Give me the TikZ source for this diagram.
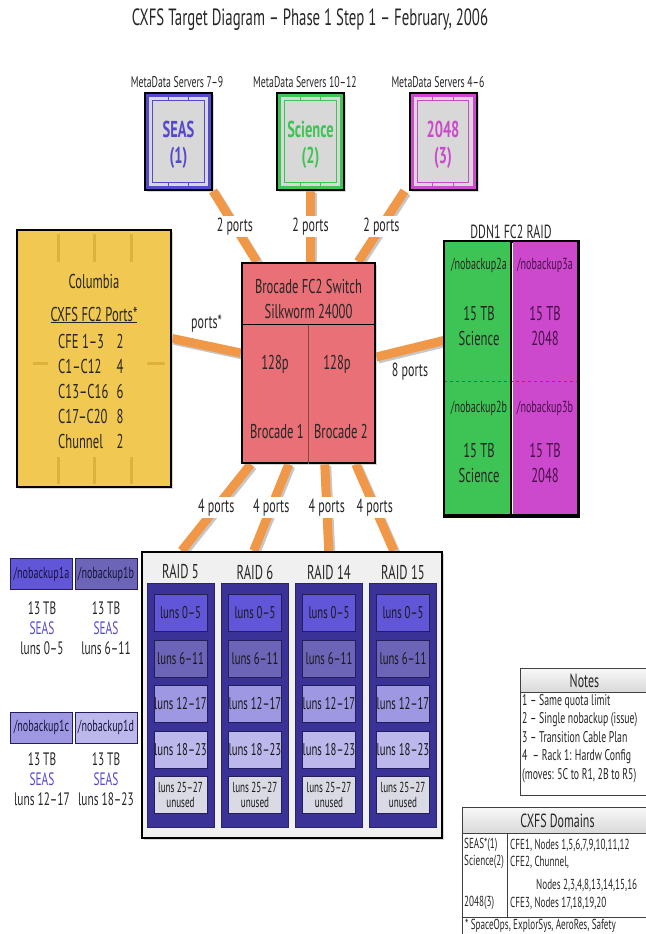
\documentclass[tikz,border=0pt]{standalone}
\usepackage{fontspec}
\setmainfont{PT Sans}[FakeStretch=0.63]
\usepackage{xcolor}
\usepackage{tikz}
\usetikzlibrary{positioning, calc, backgrounds, shadows}

\definecolor{laranja}{RGB}{241,152,72}
\definecolor{vermelho}{RGB}{232,112,118}
\definecolor{ouro}{RGB}{240,200,82}
\definecolor{ourofundo}{RGB}{222,176,60}
\definecolor{azulseas}{RGB}{84,72,204}
\definecolor{verdesci}{RGB}{62,196,84}
\definecolor{magenta2048}{RGB}{204,72,204}
\definecolor{cinzasrv}{RGB}{216,216,216}
\definecolor{azulraid}{RGB}{58,50,150}
\definecolor{lunA}{RGB}{98,86,216}
\definecolor{lunB}{RGB}{108,100,182}
\definecolor{lunC}{RGB}{158,152,226}
\definecolor{lunD}{RGB}{188,184,236}
\definecolor{lunE}{RGB}{218,218,228}
\definecolor{roxoescuro}{RGB}{72,16,72}

\newcommand{\tam}[2]{\fontsize{#1}{#2}\selectfont}

\begin{document}
\begin{tikzpicture}[
  x=1pt, y=-1pt,
  font=\tam{18}{20},
  text=black!85,
  sombra/.style={drop shadow={shadow xshift=2pt, shadow yshift=-2pt, fill=black!30}},
  servidor/.style={draw=black, line width=2pt, minimum width=67pt, minimum height=97pt,
                   inner sep=0pt, sombra},
  miolo/.style={fill=cinzasrv, minimum width=59pt, minimum height=89pt, inner sep=0pt},
  chave/.style={draw=black, line width=2.5pt, fill=vermelho, minimum width=133pt,
                minimum height=200pt, sombra},
  columbia/.style={draw=black, line width=2.5pt, fill=ouro, minimum width=154pt,
                   minimum height=257pt, sombra},
  caixaddn/.style={draw=black, line width=2.5pt, fill=white, minimum width=132pt,
                   minimum height=273pt, sombra},
  meiaddn/.style={minimum height=273pt, inner sep=0pt},
  caixaraid/.style={draw=black, line width=2.5pt, fill=gray!12, minimum width=300pt,
                    minimum height=286pt, sombra},
  coluna/.style={fill=azulraid, draw=azulraid!70!black, line width=0.8pt,
                 minimum width=67pt, minimum height=244pt},
  lun/.style={draw=azulraid!60!black, line width=1pt, minimum width=53pt,
              minimum height=37pt, inner sep=0pt, font=\tam{17}{17}, text=black!90},
  nb/.style={draw=azulraid!60!black, line width=1pt, minimum width=62pt,
             minimum height=31pt, inner sep=0pt, font=\tam{16}{16}, text=azulraid!40!black},
  tabela/.style={draw=black!75, line width=1pt, fill=white, inner sep=0pt},
  cabec/.style={draw=black!75, line width=1pt, top color=gray!6, bottom color=gray!30,
                inner sep=0pt, font=\tam{19}{20}},
  cabo/.style={draw=laranja, line width=9pt,
               preaction={draw=black!22, line width=9pt, transform canvas={xshift=2pt, yshift=-2pt}}},
  porta/.style={fill=white, inner sep=1.5pt, font=\tam{19}{20}},
  rotulo/.style={font=\tam{15.5}{17}},
  linha/.style={anchor=west, inner sep=1pt, font=\tam{14.5}{16}}
]
\useasboundingbox (0,0) rectangle (645,934);

% ---------- Titulo ----------
\node[font=\tam{23.5}{26}] (titulo) at (310,20) {CXFS Target Diagram – Phase 1 Step 1 – February, 2006};

% ---------- Servidores de metadados ----------
\node[rotulo] (md1) at (177,82) {MetaData Servers 7–9};
\node[rotulo] (md2) at (305,82) {MetaData Servers 10–12};
\node[rotulo] (md3) at (438,82) {MetaData Servers 4–6};

\foreach \nome/\cx/\cor/\txt/\num in {seas/178.5/azulseas/SEAS/1, sci/310.5/verdesci/Science/2, tfe/443/magenta2048/2048/3}{
  \node[servidor, fill=\cor] (\nome) at (\cx,141.5) {};
  \node[miolo] (\nome-m) at (\nome) {};
  \draw[\cor, line width=1pt] ([shift={(4pt,-4pt)}]\nome-m.north west) rectangle ([shift={(-4pt,4pt)}]\nome-m.south east);
  \foreach \f in {0.33,0.67}{
    \draw[\cor, line width=1pt] ($(\nome-m.north west)!\f!(\nome-m.north east)$) -- ++(0,4);
    \draw[\cor, line width=1pt] ($(\nome-m.south west)!\f!(\nome-m.south east)$) -- ++(0,-4);
  }
  \node[font=\bfseries\tam{23}{26}, text=\cor, align=center] (\nome-t) at (\cx,145) {\txt\\(\num)};
}

% ---------- Switch Brocade ----------
\node[chave] (sw) at (308.5,363) {};
\draw[line width=1.2pt] ([yshift=-63pt]sw.north west) -- ([yshift=-63pt]sw.north east);
\draw[black!40!vermelho, line width=0.6pt] ([yshift=-63pt]sw.north) -- (sw.south);
\node[align=center, font=\tam{20}{25}] (swtit) at (308.5,298.5) {Brocade FC2 Switch\\Silkworm 24000};
\node[font=\tam{20}{20}] (sw-p1) at (275,364) {128p};
\node[font=\tam{20}{20}] (sw-p2) at (337,364) {128p};
\node[font=\tam{20}{20}] (sw-b1) at (277,431) {Brocade 1};
\node[font=\tam{20}{20}] (sw-b2) at (341,431) {Brocade 2};

% ---------- Columbia ----------
\node[columbia] (col) at (94,358.5) {};
\begin{scope}[ourofundo, line width=3pt]
  \foreach \vx in {58,94,131}{
    \draw (\vx,234) -- (\vx,262);
    \draw (\vx,457) -- (\vx,484);
  }
  \draw (33,363) -- (48,363);
  \draw (147,363) -- (165,363);
\end{scope}
\node[font=\tam{20}{20}] (col-tit) at (94,281) {Columbia};
\node[font=\tam{20}{20}] (col-sub) at (94,315) {\underline{CXFS FC2 Ports*}};
\node[anchor=west, align=left, inner sep=0pt, font=\tam{20}{25}] (col-nomes) at (58,391)
  {CFE 1–3\\C1–C12\\C13–C16\\C17–C20\\Chunnel};
\node[align=center, inner sep=0pt, font=\tam{20}{25}] (col-nums) at (120,391) {2\\4\\6\\8\\2};

% ---------- DDN1 FC2 RAID ----------
\node[font=\tam{19}{20}] (ddn-tit) at (511,232) {DDN1 FC2 RAID};
\node[caixaddn] (ddn) at (511,378.5) {};
\node[meiaddn, fill=verdesci, minimum width=67pt, anchor=north west] (ddn-l) at (ddn.north west) {};
\node[meiaddn, fill=magenta2048, minimum width=65pt, anchor=north east] (ddn-r) at (ddn.north east) {};
\draw[black!65, dashed, line width=1.3pt] ([yshift=-141pt]ddn.north west) -- ([yshift=-141pt]ddn.north east);
\draw[line width=2pt] (ddn-l.north east) -- (ddn-l.south east);
\draw[line width=2.5pt] (ddn.north west) rectangle (ddn.south east);
\node[font=\tam{16}{16}] (n2a) at (479,265) {/nobackup2a};
\node[align=center, font=\tam{20}{25}] (n2a-t) at (479,325.5) {15 TB\\Science};
\node[font=\tam{16}{16}] (n2b) at (479,408) {/nobackup2b};
\node[align=center, font=\tam{20}{25}] (n2b-t) at (479,462.5) {15 TB\\Science};
\node[font=\tam{16}{16}, text=roxoescuro] (n3a) at (545,265) {/nobackup3a};
\node[align=center, font=\tam{20}{25}, text=roxoescuro] (n3a-t) at (545,325.5) {15 TB\\2048};
\node[font=\tam{16}{16}, text=roxoescuro] (n3b) at (545,408) {/nobackup3b};
\node[align=center, font=\tam{20}{25}, text=roxoescuro] (n3b-t) at (545,462.5) {15 TB\\2048};

% ---------- Volumes /nobackup1 (SEAS) ----------
\node[nb, fill=lunA] (nb1a) at (41.5,574) {/nobackup1a};
\node[nb, fill=lunB] (nb1b) at (106,574) {/nobackup1b};
\node[nb, fill=lunC] (nb1c) at (41.5,727.5) {/nobackup1c};
\node[nb, fill=lunD] (nb1d) at (106,727.5) {/nobackup1d};
\node[align=center, font=\tam{18}{20}] (nb1a-t) at (42,628) {13 TB\\\textcolor{azulseas}{SEAS}\\luns 0–5};
\node[align=center, font=\tam{18}{20}] (nb1b-t) at (106,628) {13 TB\\\textcolor{azulseas}{SEAS}\\luns 6–11};
\node[align=center, font=\tam{18}{20}] (nb1c-t) at (42,779) {13 TB\\\textcolor{azulseas}{SEAS}\\luns 12–17};
\node[align=center, font=\tam{18}{20}] (nb1d-t) at (106,779) {13 TB\\\textcolor{azulseas}{SEAS}\\luns 18–23};

% ---------- RAIDs 5, 6, 14, 15 ----------
\node[caixaraid] (raid) at (292,695) {};
\foreach \i/\cx/\nr in {1/180.5/5, 2/255/6, 3/329/14, 4/403/15}{
  \node[font=\tam{20}{20}] (raid\i-tit) at (\cx,572) {RAID \nr};
  \node[coluna] (raid\i) at (\cx,705) {};
  \foreach \j/\cy/\cor/\txt in {1/613/lunA/luns 0–5, 2/658.5/lunB/luns 6–11, 3/704/lunC/luns 12–17, 4/749.5/lunD/luns 18–23}
    \node[lun, fill=\cor] (raid\i-\j) at (\cx,\cy) {\txt};
  \node[lun, fill=lunE, align=center, font=\tam{14.5}{15.5}] (raid\i-5) at (\cx,795) {luns 25–27\\unused};
}

% ---------- Cabos de fibra (laranja) ----------
\begin{scope}[on background layer]
  \draw[cabo] (seas.south east) -- node[porta] (lp1) {2 ports} ([xshift=16pt]sw.north west);
  \draw[cabo] (sci.south) -- node[porta] (lp2) {2 ports} (sci.south |- sw.north);
  \draw[cabo] ([xshift=-4pt]tfe.south west) -- node[porta] (lp3) {2 ports} ([xshift=-18pt]sw.north east);
  \draw[cabo] ([yshift=20pt]col.east) -- node[above=6pt, font=\tam{19}{20}] (lpc) {ports*} ([yshift=10pt]sw.west);
  \draw[cabo] ([yshift=6pt]sw.east) -- node[below=6pt, font=\tam{19}{20}] (lpd) {8 ports} ([yshift=38pt]ddn.west);
  \draw[cabo] ([xshift=10pt]sw.south west) -- node[porta] (lr1) {4 ports} ([xshift=41pt]raid.north west);
  \draw[cabo] ([xshift=48pt]sw.south west) -- node[porta] (lr2) {4 ports} ([xshift=113pt]raid.north west);
  \draw[cabo] ([xshift=84pt]sw.south west) -- node[porta] (lr3) {4 ports} ([xshift=188pt]raid.north west);
  \draw[cabo] ([xshift=115pt]sw.south west) -- node[porta] (lr4) {4 ports} ([xshift=253pt]raid.north west);
\end{scope}

% ---------- Notas ----------
\node[tabela, anchor=north west, minimum width=128pt, minimum height=127pt] (notas) at (520,668) {};
\node[cabec, anchor=north west, minimum width=128pt, minimum height=24pt] (notas-h) at (notas.north west) {Notes};
\node[anchor=north west, align=left, inner sep=0pt, font=\tam{15.5}{18.5}] (notas-txt) at (522,694)
  {1 – Same quota limit\\2 – Single nobackup (issue)\\3 – Transition Cable Plan\\4 \ – Rack 1: Hardw Config\\(moves: 5C to R1, 2B to R5)};

% ---------- Dominios CXFS ----------
\node[tabela, anchor=north west, minimum width=190pt, minimum height=135pt] (dom) at (462,807) {};
\node[cabec, anchor=north west, minimum width=190pt, minimum height=26pt] (dom-h) at (dom.north west) {CXFS Domains};
\draw[black!75, line width=1pt] (dom-h.south -| 507,0) -- (507,917);
\draw[black!75, line width=1pt] (dom.west |- 0,917) -- (dom.east |- 0,917);
\node[linha] (d1) at (463,845) {SEAS*(1)};
\node[linha] (d2) at (463,862) {Science(2)};
\node[linha] (d3) at (463,903) {2048(3)};
\node[linha] (d4) at (509,845) {CFE1, Nodes 1,5,6,7,9,10,11,12};
\node[linha] (d5) at (509,862) {CFE2, Chunnel,};
\node[linha] (d6) at (535,885) {Nodes 2,3,4,8,13,14,15,16};
\node[linha] (d7) at (509,903) {CFE3, Nodes 17,18,19,20};
\node[linha] (d8) at (464,926) {* SpaceOps, ExplorSys, AeroRes, Safety};

\end{tikzpicture}
\end{document}
